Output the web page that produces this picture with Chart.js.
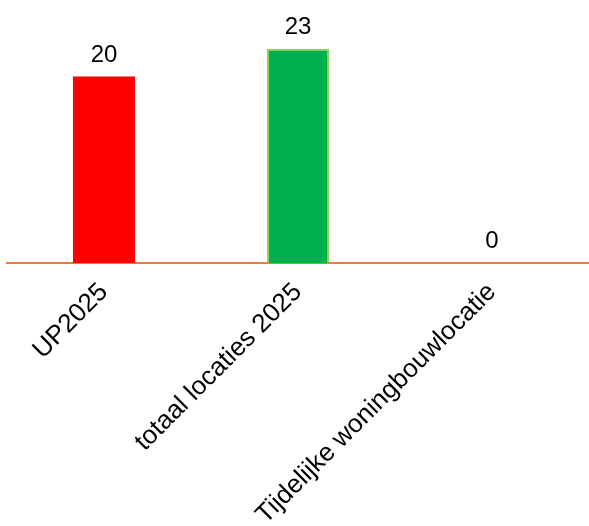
<!DOCTYPE html>
<html>
<head>
<meta charset="utf-8">
<script src="https://cdn.jsdelivr.net/npm/chart.js@4/dist/chart.umd.min.js"></script>
<style>
  html, body { margin: 0; padding: 0; background: #ffffff; }
  #wrap { width: 589px; height: 526px; position: relative; }
</style>
</head>
<body>
<div id="wrap"><canvas id="c"></canvas></div>
<script>
const categories = ["UP2025", "totaal locaties 2025", "Tijdelijke woningbouwlocatie"];
const values = [20, 23, 0];
const barColors = ["#FF0000", "#00B050", "#00B050"];
const barBorderColors = ["#FF0000", "#92D050", "#92D050"];
const barBorderWidths = [0, 2, 2];

const valueLabels = {
  id: 'valueLabels',
  afterDatasetsDraw(chart) {
    const ctx = chart.ctx;
    const meta = chart.getDatasetMeta(0);
    ctx.save();
    ctx.font = '24px "Liberation Sans", Arial, sans-serif';
    ctx.fillStyle = '#000000';
    ctx.textAlign = 'center';
    ctx.textBaseline = 'alphabetic';
    meta.data.forEach((bar, i) => {
      ctx.fillText(String(values[i]), bar.x, bar.y - 15);
    });
    ctx.restore();
  }
};

new Chart(document.getElementById('c'), {
  type: 'bar',
  data: {
    labels: categories,
    datasets: [{
      data: values,
      backgroundColor: barColors,
      borderColor: barBorderColors,
      borderWidth: barBorderWidths,
      barPercentage: 0.32,
      categoryPercentage: 1.0
    }]
  },
  options: {
    responsive: true,
    maintainAspectRatio: false,
    animation: false,
    layout: { padding: { left: 7, right: 0, top: 30, bottom: 0 } },
    plugins: {
      legend: { display: false },
      tooltip: { enabled: false },
      title: { display: false }
    },
    scales: {
      x: {
        z: 1,
        grid: { display: false },
        border: { display: true, color: '#ED7D31', width: 2 },
        ticks: {
          color: '#000000',
          font: { family: '"Liberation Sans", Arial, sans-serif', size: 26 },
          maxRotation: 45,
          minRotation: 45,
          padding: 6,
          autoSkip: false
        },
        afterFit(scale) { scale.height = 263; }
      },
      y: {
        display: false,
        min: 0,
        max: 25
      }
    }
  },
  plugins: [valueLabels]
});
</script>
</body>
</html>
